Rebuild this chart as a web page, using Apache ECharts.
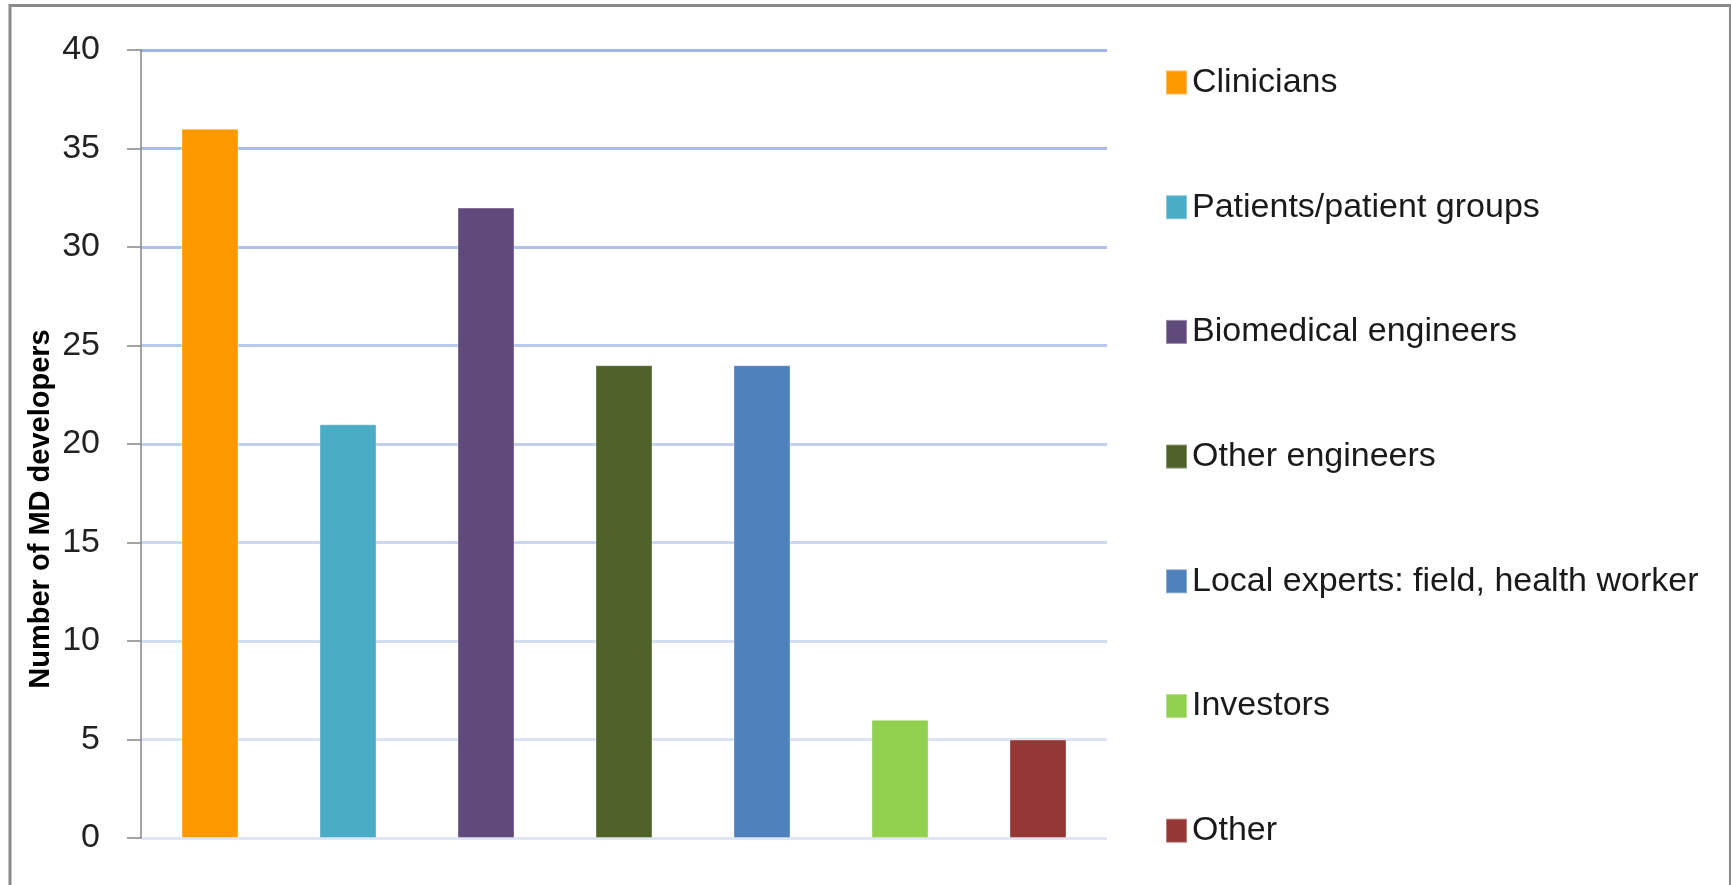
<!DOCTYPE html>
<html>
<head>
<meta charset="utf-8">
<title>MD developers</title>
<script src="https://cdn.jsdelivr.net/npm/echarts@6/dist/echarts.min.js"></script>
<style>
  html, body { margin: 0; padding: 0; background: #fff; }
  #chart { width: 1731px; height: 885px; }
</style>
</head>
<body>
<div id="chart"></div>
<script>
var groups = ['Clinicians', 'Patients/patient groups', 'Biomedical engineers', 'Other engineers',
  'Local experts: field, health worker', 'Investors', 'Other']
var counts = [36, 21, 32, 24, 24, 6, 5]
var colors = ['#ff9900', '#4bacc6', '#604a7b', '#4f6228', '#4f81bd', '#92d050', '#953735']
var yTicks = [0, 5, 10, 15, 20, 25, 30, 35, 40]
var yName = 'Number of MD developers'

var FONT = '"Liberation Sans", Arial, sans-serif'

var chart = echarts.init(document.getElementById('chart'))

// one series per group so every group gets its own legend entry
var series = groups.map(function (name, i) {
  return {
    name: name,
    type: 'bar',
    barWidth: 57,
    barGap: '-100%',
    itemStyle: {
      color: colors[i],
      borderColor: 'rgba(255,255,255,0.35)',
      borderWidth: 1
    },
    data: counts.map(function (v, j) { return j === i ? v : '-' })
  }
})

var option = {
  animation: false,
  backgroundColor: '#fff',
  grid: {
    left: 141,
    right: 624,
    top: 50,
    bottom: 47
  },
  legend: {
    orient: 'vertical',
    left: 1160,
    top: 60.5,
    itemWidth: 21,
    itemHeight: 24,
    itemGap: 90.7,
    icon: 'rect',
    textStyle: {
      fontFamily: FONT,
      fontSize: 34,
      lineHeight: 34,
      color: '#1a1a1a'
    },
    data: groups
  },
  xAxis: {
    type: 'category',
    data: groups,
    axisLine: { show: false },
    axisTick: { show: false },
    axisLabel: { show: false },
    splitLine: { show: false }
  },
  yAxis: {
    type: 'value',
    min: yTicks[0],
    max: yTicks[yTicks.length - 1],
    interval: 5,
    axisLine: {
      show: true,
      lineStyle: { color: '#868686', width: 1.5 }
    },
    axisTick: {
      show: true,
      length: 14,
      lineStyle: { color: '#868686', width: 1.5 }
    },
    axisLabel: {
      margin: 41,
      fontFamily: FONT,
      fontSize: 34,
      color: '#222'
    },
    splitLine: {
      show: true,
      lineStyle: {
        // darker towards the top, like the original
        color: ['#dfe6f5', '#dae2f4', '#d3ddf2', '#cbd7f0', '#c3d1ee', '#b9c9eb', '#b0c2e9', '#a8bce7', '#a0b6e5'],
        width: 3
      }
    }
  },
  graphic: [
    {
      type: 'rect',
      silent: true,
      shape: { x: 10, y: 5.5, width: 1720.5, height: 890 },
      style: { fill: null, stroke: '#8a8a8a', lineWidth: 3 }
    },
    {
      type: 'text',
      x: 41,
      y: 509,
      rotation: Math.PI / 2,
      style: {
        text: yName,
        font: 'bold 29px ' + FONT,
        fill: '#000',
        textAlign: 'center',
        textVerticalAlign: 'middle'
      }
    }
  ],
  series: series
}

chart.setOption(option)
</script>
</body>
</html>
